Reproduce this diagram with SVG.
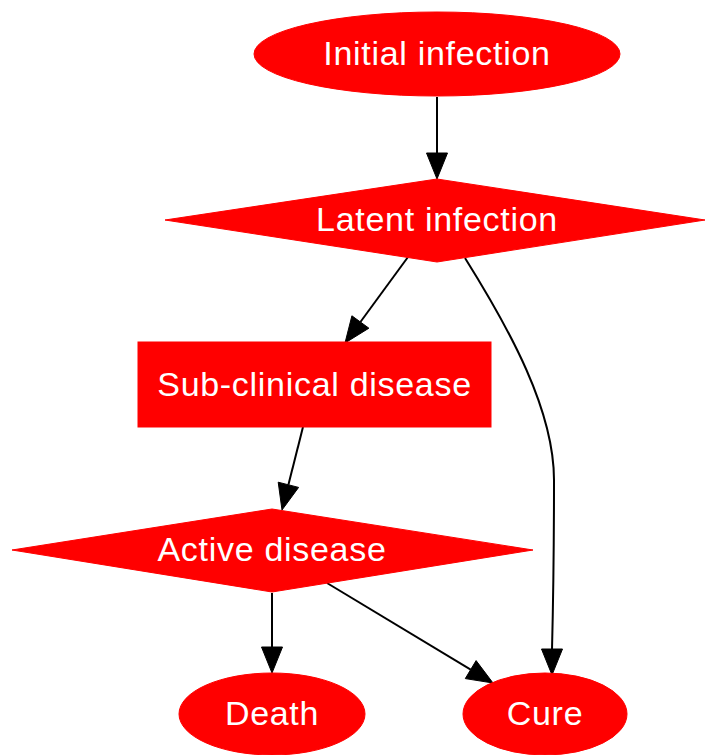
<svg xmlns="http://www.w3.org/2000/svg" width="706" height="755" viewBox="0 0 706 755">
<style>
.n{fill:#ff0000;stroke:#ff0000;stroke-width:1}
.t{font-family:"Liberation Sans",Arial,sans-serif;font-size:34px;letter-spacing:0.7px;fill:#ffffff;text-anchor:middle}
.e{fill:none;stroke:#000000;stroke-width:2}
.h{fill:#000000;stroke:#000000;stroke-width:1}
</style>
<rect x="0" y="0" width="706" height="755" fill="#ffffff"/>
<g id="connectors">
<path class="e" d="M437,97 L437,153"/>
<polygon class="h" points="437,179 426.5,153 447.5,153"/>
<path class="e" d="M408,257 L360.4,322"/>
<polygon class="h" points="345,343 351.9,315.8 368.9,328.2"/>
<path class="e" d="M465,258 C510,330 554,410 554,480 C554,560 553,610 552,650"/>
<polygon class="h" points="552,675 541.5,649 562.5,649"/>
<path class="e" d="M303,427 L288.4,484.8"/>
<polygon class="h" points="282,510 278.2,482.2 298.6,487.4"/>
<path class="e" d="M272,593 L272,648"/>
<polygon class="h" points="272,673 261.5,647 282.5,647"/>
<path class="e" d="M327,583 L470.7,669.6"/>
<polygon class="h" points="493,683 465.3,678.6 476.1,660.6"/>
</g>
<g id="initial">
<ellipse class="n" cx="437" cy="54" rx="183" ry="42"/>
<text class="t" x="437" y="65">Initial infection</text>
</g>
<g id="latent">
<polygon class="n" points="437,179 705,220 437,262 165,220"/>
<text class="t" x="437" y="231">Latent infection</text>
</g>
<g id="subclinical">
<rect class="n" x="138" y="342" width="353" height="85"/>
<text class="t" x="314.5" y="396">Sub-clinical disease</text>
</g>
<g id="active">
<polygon class="n" points="272,509 533,550 272,592 12,550"/>
<text class="t" x="272" y="561">Active disease</text>
</g>
<g id="death">
<ellipse class="n" cx="272" cy="714" rx="93" ry="41"/>
<text class="t" x="272" y="725">Death</text>
</g>
<g id="cure">
<ellipse class="n" cx="545" cy="714" rx="82" ry="41"/>
<text class="t" x="545" y="725">Cure</text>
</g>
</svg>
